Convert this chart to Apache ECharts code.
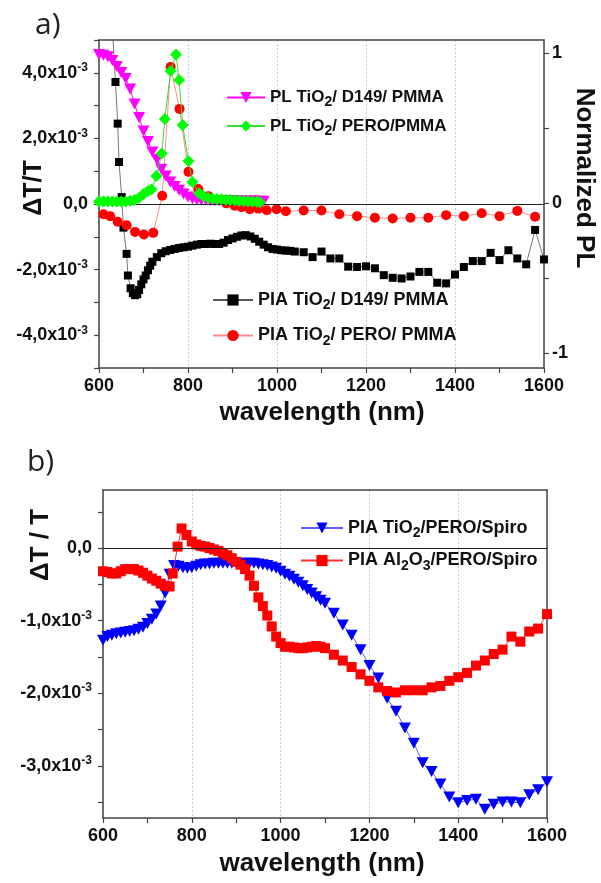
<!DOCTYPE html>
<html>
<head>
<meta charset="utf-8">
<script src="https://cdn.jsdelivr.net/npm/echarts@6/dist/echarts.min.js"></script>
<style>
  html, body { margin: 0; padding: 0; background: #fff; }
  #chart { width: 601px; height: 883px; }
</style>
</head>
<body>
<div id="chart"></div>
<script>
// ---- data (dT/T values in units of 1e-3, PL normalized) ----
const piaD149X = [620, 630, 637, 642, 645, 651, 655, 662, 665, 671, 676, 681, 686, 690, 695, 700, 705, 710, 715, 720,
  730, 740, 750, 760, 770, 780, 790, 800, 810, 820, 830, 840, 850, 860, 870, 880, 890, 900, 910, 920, 930, 940, 950,
  960, 970, 980, 990, 1000, 1010, 1020, 1030, 1040, 1060, 1080, 1100, 1120, 1140, 1160, 1180, 1200, 1220, 1240, 1260,
  1280, 1300, 1320, 1340, 1360, 1380, 1400, 1420, 1440, 1460, 1480, 1500, 1520, 1540, 1560, 1580, 1600];
const piaD149Y = [7.5, 5.4, 3.72, 2.45, 1.28, 0.21, -0.72, -1.52, -2.18, -2.57, -2.72, -2.78, -2.75, -2.62, -2.45, -2.30,
  -2.18, -2.02, -1.88, -1.76, -1.62, -1.50, -1.44, -1.40, -1.37, -1.34, -1.32, -1.30, -1.27, -1.24, -1.22, -1.22, -1.21,
  -1.22, -1.22, -1.18, -1.10, -1.05, -1.00, -0.96, -0.95, -0.99, -1.06, -1.15, -1.24, -1.32, -1.37, -1.39, -1.41, -1.42,
  -1.43, -1.45, -1.47, -1.62, -1.45, -1.66, -1.66, -1.91, -1.92, -1.90, -1.96, -2.17, -2.25, -2.27, -2.21, -2.07, -2.07,
  -2.40, -2.42, -2.15, -1.92, -1.74, -1.74, -1.49, -1.71, -1.41, -1.66, -1.84, -0.79, -1.69];

const piaPeroX = [610, 625, 642, 662, 681, 701, 722, 742, 761, 781, 801, 823, 846, 866, 886, 905, 920, 939, 958, 977,
  999, 1020, 1060, 1100, 1140, 1180, 1220, 1260, 1300, 1340, 1380, 1420, 1460, 1500, 1540, 1580];
const piaPeroY = [-0.31, -0.37, -0.54, -0.65, -0.85, -0.93, -0.88, 0.25, 4.18, 2.90, 0.98, 0.46, 0.24, 0.12, 0.02,
  -0.05, -0.10, -0.16, -0.14, -0.19, -0.16, -0.22, -0.20, -0.20, -0.31, -0.37, -0.42, -0.44, -0.42, -0.42, -0.34,
  -0.37, -0.28, -0.37, -0.21, -0.39];

const plD149X = [600, 610, 620, 630, 640, 650, 660, 670, 680, 690, 700, 710, 720, 730, 740, 750, 760, 770, 780, 790,
  800, 810, 820, 830, 840, 850, 860, 870, 880, 890, 900, 910, 920, 930, 940, 950, 960, 970];
const plD149Y = [0.99, 0.985, 0.975, 0.95, 0.91, 0.87, 0.83, 0.76, 0.66, 0.57, 0.48, 0.41, 0.34, 0.29, 0.225, 0.18,
  0.14, 0.11, 0.085, 0.06, 0.04, 0.028, 0.022, 0.019, 0.018, 0.017, 0.016, 0.016, 0.015, 0.015, 0.015, 0.014, 0.014,
  0.013, 0.013, 0.013, 0.012, 0.012];

const plPeroX = [600, 610, 620, 630, 640, 650, 660, 670, 680, 690, 700, 710, 718, 729, 741, 748, 761, 773, 780, 788,
  801, 810, 825, 835, 845, 855, 865, 875, 885, 895, 905, 915, 925, 935, 945, 955, 962];
const plPeroY = [0.01, 0.01, 0.01, 0.01, 0.01, 0.01, 0.01, 0.015, 0.02, 0.035, 0.06, 0.08, 0.09, 0.18, 0.33, 0.56,
  0.88, 0.99, 0.82, 0.52, 0.28, 0.14, 0.065, 0.045, 0.035, 0.03, 0.027, 0.025, 0.022, 0.02, 0.018, 0.016, 0.014,
  0.012, 0.01, 0.008, 0.006];

const spiroTiX = [600, 610, 620, 630, 640, 650, 660, 670, 680, 690, 700, 710, 720, 730, 740, 750, 760, 770, 780, 790,
  800, 810, 820, 830, 840, 850, 860, 870, 880, 890, 900, 910, 920, 930, 940, 950, 960, 970, 980, 990, 1000, 1010, 1020,
  1030, 1040, 1050, 1060, 1070, 1080, 1090, 1100, 1120, 1140, 1160, 1180, 1200, 1220, 1240, 1260, 1280, 1300, 1320,
  1340, 1360, 1380, 1400, 1420, 1440, 1460, 1480, 1500, 1520, 1540, 1560, 1580, 1600];
const spiroTiY = [-1.27, -1.22, -1.20, -1.18, -1.17, -1.16, -1.15, -1.14, -1.12, -1.09, -1.04, -0.98, -0.91, -0.80,
  -0.62, -0.36, -0.24, -0.25, -0.27, -0.28, -0.27, -0.25, -0.23, -0.22, -0.22, -0.21, -0.21, -0.21, -0.21, -0.21,
  -0.21, -0.21, -0.21, -0.21, -0.21, -0.22, -0.23, -0.24, -0.26, -0.28, -0.32, -0.36, -0.39, -0.43, -0.47, -0.52,
  -0.57, -0.62, -0.67, -0.72, -0.76, -0.90, -1.06, -1.20, -1.40, -1.62, -1.79, -2.07, -2.25, -2.48, -2.69, -2.96,
  -3.08, -3.25, -3.43, -3.51, -3.48, -3.46, -3.60, -3.53, -3.50, -3.50, -3.51, -3.40, -3.33, -3.22];

const spiroAlX = [600, 610, 620, 630, 640, 650, 660, 670, 680, 690, 700, 710, 720, 730, 740, 750, 757, 768, 777, 788,
  800, 810, 820, 830, 840, 850, 860, 870, 880, 890, 900, 910, 920, 930, 940, 950, 960, 970, 980, 990, 1000, 1010, 1020,
  1030, 1040, 1050, 1060, 1070, 1080, 1090, 1100, 1120, 1140, 1160, 1180, 1200, 1220, 1240, 1260, 1280, 1300, 1320,
  1340, 1360, 1380, 1400, 1420, 1440, 1460, 1480, 1500, 1520, 1540, 1560, 1580, 1600];
const spiroAlY = [-0.32, -0.33, -0.35, -0.35, -0.32, -0.29, -0.29, -0.29, -0.31, -0.34, -0.38, -0.42, -0.45, -0.49,
  -0.52, -0.53, -0.35, 0.02, 0.27, 0.18, 0.09, 0.05, 0.03, 0.02, 0.0, -0.02, -0.04, -0.07, -0.10, -0.14, -0.19, -0.23,
  -0.29, -0.38, -0.52, -0.68, -0.80, -0.93, -1.08, -1.22, -1.31, -1.36, -1.36, -1.37, -1.38, -1.38, -1.37, -1.36,
  -1.35, -1.36, -1.38, -1.47, -1.55, -1.64, -1.74, -1.83, -1.92, -1.97, -1.99, -1.96, -1.96, -1.96, -1.92, -1.90,
  -1.83, -1.78, -1.72, -1.62, -1.55, -1.46, -1.40, -1.22, -1.29, -1.15, -1.11, -0.91];

const xTicks = [600, 800, 1000, 1200, 1400, 1600];
const topLeftLabels = [-4, -2, 0, 2, 4];
const topRightLabels = [-1, 0, 1];
const bottomLeftLabels = [-3, -2, -1, 0];

const zip = (xs, ys) => xs.map((x, i) => [x, ys[i]]);

const FONT = '"Liberation Sans", Arial, sans-serif';
const AXIS_COL = '#444';

const expLabel = v => v === 0 ? '{n|0,0}' : '{n|' + v.toFixed(1).replace('.', ',') + 'x10}{sup|-3}';
const labelRich = {
  n: { fontSize: 18, fontWeight: 'bold', fontFamily: FONT, color: '#111' },
  sup: { fontSize: 12, fontWeight: 'bold', fontFamily: FONT, color: '#111', padding: [0, 0, 10, 0] }
};
function legendRich(size) {
  return {
    t: { fontSize: size, fontWeight: 'bold', fontFamily: FONT, color: '#111' },
    sub: { fontSize: Math.round(size * 0.8), fontWeight: 'bold', fontFamily: FONT, color: '#111', padding: [Math.round(size * 0.6), 0, 0, 0] }
  };
}
const legendNames = {
  'PL TiO2/ D149/ PMMA': '{t|PL TiO}{sub|2}{t|/ D149/ PMMA}',
  'PL TiO2/ PERO/PMMA': '{t|PL TiO}{sub|2}{t|/ PERO/PMMA}',
  'PIA TiO2/ D149/ PMMA': '{t|PIA TiO}{sub|2}{t|/ D149/ PMMA}',
  'PIA TiO2/ PERO/ PMMA': '{t|PIA TiO}{sub|2}{t|/ PERO/ PMMA}',
  'PIA TiO2/PERO/Spiro': '{t|PIA TiO}{sub|2}{t|/PERO/Spiro}',
  'PIA Al2O3/PERO/Spiro': '{t|PIA Al}{sub|2}{t|O}{sub|3}{t|/PERO/Spiro}'
};

function xAxisFor(grid) {
  return {
    type: 'value', gridIndex: grid, min: 600, max: 1600, interval: 200,
    axisLine: { onZero: false, lineStyle: { color: AXIS_COL, width: 1.5 } },
    axisTick: { inside: false, length: 5, lineStyle: { color: AXIS_COL, width: 1.2 } },
    minorTick: { show: true, splitNumber: 2, length: 5, lineStyle: { color: AXIS_COL, width: 1.2 } },
    axisLabel: {
      margin: 9, fontSize: 18, fontWeight: 'bold', fontFamily: FONT, color: '#111',
      customValues: xTicks, formatter: v => String(v)
    },
    splitLine: { show: true, lineStyle: { color: '#c9c9f2', type: [2, 2], width: 1 } }
  };
}
function boxAxis(grid, pos) {
  return {
    type: 'value', gridIndex: grid, position: pos, min: 0, max: 1,
    axisLine: { show: true, onZero: false, lineStyle: { color: AXIS_COL, width: 1.5 } },
    axisTick: { show: false }, axisLabel: { show: false }, splitLine: { show: false }
  };
}

const zeroLine = {
  silent: true, symbol: 'none', label: { show: false },
  lineStyle: { color: '#222', type: 'solid', width: 1.2 },
  data: [{ yAxis: 0 }]
};

const chart = echarts.init(document.getElementById('chart'), null, { renderer: 'canvas' });
chart.setOption({
  backgroundColor: '#fff',
  animation: false,
  grid: [
    { left: 99, top: 40, width: 445, height: 328 },
    { left: 103, top: 490, width: 444, height: 328 }
  ],
  xAxis: [
    xAxisFor(0),
    boxAxis(0, 'top'),
    xAxisFor(1),
    boxAxis(1, 'top')
  ],
  yAxis: [
    {
      type: 'value', gridIndex: 0, min: -5, max: 5, position: 'left',
      axisLine: { onZero: false, lineStyle: { color: AXIS_COL, width: 1.5 } },
      axisTick: { length: 5, customValues: [-5, -4, -3, -2, -1, 0, 1, 2, 3, 4, 5], lineStyle: { color: AXIS_COL, width: 1.2 } },
      axisLabel: { margin: 11, customValues: topLeftLabels, formatter: expLabel, rich: labelRich },
      splitLine: { show: false }
    },
    {
      type: 'value', gridIndex: 0, min: -1.1, max: 1.087, position: 'right',
      axisLine: { show: true, onZero: false, lineStyle: { color: AXIS_COL, width: 1.5 } },
      axisTick: { length: 5, customValues: [-1, -0.5, 0, 0.5, 1], lineStyle: { color: AXIS_COL, width: 1.2 } },
      axisLabel: {
        margin: 8, customValues: topRightLabels, fontSize: 18, fontWeight: 'bold', fontFamily: FONT, color: '#111'
      },
      splitLine: { show: false }
    },
    {
      type: 'value', gridIndex: 1, min: -3.72, max: 0.8, position: 'left',
      axisLine: { onZero: false, lineStyle: { color: AXIS_COL, width: 1.5 } },
      axisTick: { length: 5, customValues: [-3.5, -3, -2.5, -2, -1.5, -1, -0.5, 0, 0.5], lineStyle: { color: AXIS_COL, width: 1.2 } },
      axisLabel: { margin: 11, customValues: bottomLeftLabels, formatter: expLabel, rich: labelRich },
      splitLine: { show: false }
    },
    boxAxis(1, 'right')
  ],
  legend: [
    {
      left: 221, top: 84, orient: 'vertical', itemWidth: 38, itemHeight: 14, itemGap: 8,
      data: ['PL TiO2/ D149/ PMMA', 'PL TiO2/ PERO/PMMA'],
      formatter: n => legendNames[n], textStyle: { rich: legendRich(17) }
    },
    {
      left: 207, top: 286, orient: 'vertical', itemWidth: 40, itemHeight: 14, itemGap: 14,
      data: ['PIA TiO2/ D149/ PMMA', 'PIA TiO2/ PERO/ PMMA'],
      formatter: n => legendNames[n], textStyle: { rich: legendRich(18) }
    },
    {
      left: 295, top: 514, orient: 'vertical', itemWidth: 42, itemHeight: 14, itemGap: 11,
      data: ['PIA TiO2/PERO/Spiro', 'PIA Al2O3/PERO/Spiro'],
      formatter: n => legendNames[n], textStyle: { rich: legendRich(18) }
    }
  ],
  graphic: [
    { type: 'text', x: 35, y: 25, style: { text: 'a)', font: '30px "Open Sans", sans-serif', fill: '#222', align: 'left', verticalAlign: 'middle' } },
    { type: 'text', x: 27, y: 462, style: { text: 'b)', font: '30px "Open Sans", sans-serif', fill: '#222', align: 'left', verticalAlign: 'middle' } },
    { type: 'text', x: 34, y: 188, rotation: Math.PI / 2, style: { text: 'ΔT/T', font: 'bold 25px ' + FONT, fill: '#111', align: 'center', verticalAlign: 'middle' } },
    { type: 'text', x: 584, y: 178, rotation: -Math.PI / 2, style: { text: 'Normalized PL', font: 'bold 26px ' + FONT, fill: '#111', align: 'center', verticalAlign: 'middle' } },
    { type: 'text', x: 322, y: 413, style: { text: 'wavelength (nm)', font: 'bold 26px ' + FONT, fill: '#111', align: 'center', verticalAlign: 'middle' } },
    { type: 'text', x: 41, y: 545, rotation: Math.PI / 2, style: { text: 'ΔT / T', font: 'bold 26px ' + FONT, fill: '#111', align: 'center', verticalAlign: 'middle' } },
    { type: 'text', x: 322, y: 864, style: { text: 'wavelength (nm)', font: 'bold 26px ' + FONT, fill: '#111', align: 'center', verticalAlign: 'middle' } }
  ],
  series: [
    {
      name: 'PIA TiO2/ D149/ PMMA', type: 'line', xAxisIndex: 0, yAxisIndex: 0,
      data: zip(piaD149X, piaD149Y), symbol: 'rect', symbolSize: 8,
      itemStyle: { color: '#000' }, lineStyle: { color: '#555', width: 0.8 },
      markLine: zeroLine, z: 2
    },
    {
      name: 'PIA TiO2/ PERO/ PMMA', type: 'line', xAxisIndex: 0, yAxisIndex: 0,
      data: zip(piaPeroX, piaPeroY), symbol: 'circle', symbolSize: 10,
      itemStyle: { color: '#ff0000' }, lineStyle: { color: '#ff8c8c', width: 1 }, z: 3
    },
    {
      name: 'PL TiO2/ D149/ PMMA', type: 'line', xAxisIndex: 0, yAxisIndex: 1,
      data: zip(plD149X, plD149Y), symbol: 'triangle', symbolRotate: 180, symbolSize: [12, 11],
      itemStyle: { color: '#ff00ff' }, lineStyle: { color: '#ff00ff', width: 1 }, z: 4
    },
    {
      name: 'PL TiO2/ PERO/PMMA', type: 'line', xAxisIndex: 0, yAxisIndex: 1,
      data: zip(plPeroX, plPeroY), symbol: 'diamond', symbolSize: [12, 12],
      itemStyle: { color: '#00ff00' }, lineStyle: { color: '#33dd33', width: 1 }, z: 5
    },
    {
      name: 'PIA TiO2/PERO/Spiro', type: 'line', xAxisIndex: 2, yAxisIndex: 2,
      data: zip(spiroTiX, spiroTiY), symbol: 'triangle', symbolRotate: 180, symbolSize: [12, 11],
      itemStyle: { color: '#0000ff' }, lineStyle: { color: '#5c5cff', width: 1 },
      markLine: zeroLine, z: 2
    },
    {
      name: 'PIA Al2O3/PERO/Spiro', type: 'line', xAxisIndex: 2, yAxisIndex: 2,
      data: zip(spiroAlX, spiroAlY), symbol: 'rect', symbolSize: 10,
      itemStyle: { color: '#ff0000' }, lineStyle: { color: '#ff3030', width: 1 }, z: 3
    }
  ]
});
</script>
</body>
</html>
